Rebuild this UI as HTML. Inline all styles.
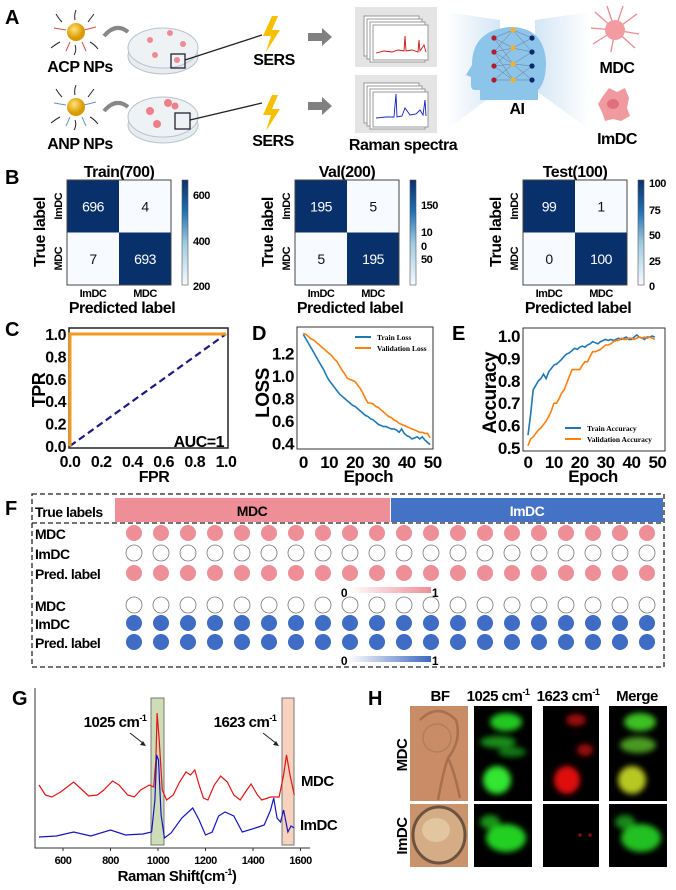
<!DOCTYPE html>
<html><head><meta charset="utf-8"><style>
html,body{margin:0;padding:0;background:#fff;}
svg{display:block;font-family:"Liberation Sans Narrow","Liberation Sans",sans-serif;font-weight:bold;letter-spacing:-0.5px;}
</style></head><body>
<svg id="fig" width="676" height="890" viewBox="0 0 676 890" xmlns="http://www.w3.org/2000/svg">
<defs>
<linearGradient id="blues" x1="0" y1="1" x2="0" y2="0"><stop offset="0" stop-color="#f7fbff"/><stop offset="0.4" stop-color="#9ecae1"/><stop offset="0.7" stop-color="#2171b5"/><stop offset="1" stop-color="#08306b"/></linearGradient>
<linearGradient id="pinkbar" x1="0" x2="1"><stop offset="0" stop-color="#fff"/><stop offset="1" stop-color="#ee8f98"/></linearGradient>
<linearGradient id="bluebar" x1="0" x2="1"><stop offset="0" stop-color="#fff"/><stop offset="1" stop-color="#3c68c0"/></linearGradient>
<linearGradient id="fanL" x1="0" x2="1"><stop offset="0" stop-color="#fff"/><stop offset="1" stop-color="#d4e6f5"/></linearGradient>
<linearGradient id="fanR" x1="0" x2="1"><stop offset="0" stop-color="#d4e6f5"/><stop offset="1" stop-color="#fff"/></linearGradient>
<radialGradient id="gold" cx="0.4" cy="0.35"><stop offset="0" stop-color="#ffe27a"/><stop offset="1" stop-color="#d99a00"/></radialGradient>
<filter id="blur2"><feGaussianBlur stdDeviation="3"/></filter>
</defs>

<!-- PANEL A -->
<g>
<text x="5" y="24" font-size="20">A</text>
<g>
 <g stroke="#222" stroke-width="1" fill="none">
  <path d="M62 22 q-3 -3 -6 -8 M88 22 q3 -4 6 -8 M60 42 q-4 2 -9 6 M90 42 q4 2 8 7 M75 20 q-1 -5 1 -10 M75 45 q2 5 -1 10"/>
 </g>
 <g stroke="#d05050" stroke-width="1"><path d="M66 30 l-12 -2 M84 30 l12 -3 M70 42 l-4 9 M82 42 l4 9"/></g>
 <circle cx="76" cy="32" r="9" fill="url(#gold)"/>
</g>
<text x="80" y="72" font-size="16" text-anchor="middle">ACP NPs</text>
<g>
 <g stroke="#222" stroke-width="1" fill="none">
  <path d="M62 97 q-3 -3 -6 -8 M88 97 q3 -4 6 -8 M60 117 q-4 2 -9 6 M90 117 q4 2 8 7 M75 95 q-1 -5 1 -10 M75 120 q2 5 -1 10"/>
 </g>
 <g stroke="#6a8fd0" stroke-width="1"><path d="M66 105 l-12 -2 M84 105 l12 -3 M70 117 l-4 9 M82 117 l4 9"/></g>
 <circle cx="76" cy="107" r="9" fill="url(#gold)"/>
</g>
<text x="80" y="149" font-size="16" text-anchor="middle">ANP NPs</text>
<path d="M104 36 q12 -14 24 -4" stroke="#888" stroke-width="4" fill="none"/>
<path d="M104 111 q12 -14 24 -4" stroke="#888" stroke-width="4" fill="none"/>
<g>
 <ellipse cx="163" cy="56" rx="35" ry="18" fill="#e6ecf0" stroke="#b8c2ca"/>
 <ellipse cx="163" cy="48" rx="35" ry="20" fill="#eef2f5" stroke="#b8c2ca"/>
 <g fill="#ee8a94"><circle cx="150" cy="40" r="3"/><circle cx="170" cy="33" r="3"/><circle cx="183" cy="44" r="3"/><circle cx="155" cy="55" r="3"/><circle cx="177" cy="60" r="3"/></g>
 <rect x="171" y="54" width="14" height="14" fill="none" stroke="#223" stroke-width="1.3"/>
</g>
<line x1="185" y1="60" x2="262" y2="35" stroke="#222" stroke-width="1.3"/>
<g>
 <ellipse cx="163" cy="125" rx="35" ry="18" fill="#e6ecf0" stroke="#b8c2ca"/>
 <ellipse cx="163" cy="117" rx="35" ry="20" fill="#eef2f5" stroke="#b8c2ca"/>
 <g fill="#ee7f88"><circle cx="150" cy="111" r="4"/><circle cx="168" cy="103" r="4"/><circle cx="175" cy="106" r="3.5"/><circle cx="157" cy="124" r="4"/></g>
 <rect x="175" y="113" width="15" height="16" fill="none" stroke="#223" stroke-width="1.3"/>
</g>
<line x1="190" y1="120" x2="262" y2="103" stroke="#222" stroke-width="1.3"/>
<path d="M272 16 l-9 20 h8 l-5 16 l14 -22 h-8 l6 -14z" fill="#f5c000"/>
<path d="M272 95 l-9 20 h8 l-5 16 l14 -22 h-8 l6 -14z" fill="#f5c000"/>
<text x="274" y="65" font-size="16" text-anchor="middle">SERS</text>
<text x="273" y="146" font-size="16" text-anchor="middle">SERS</text>
<path d="M308 33 h14 v-5 l10 9 l-10 9 v-5 h-14z" fill="#808080"/>
<path d="M308 102 h14 v-5 l10 9 l-10 9 v-5 h-14z" fill="#808080"/>
<g>
 <rect x="355" y="7" width="82" height="60" fill="#e4e4e4"/>
 <rect x="364" y="16" width="55" height="40" fill="#fff" stroke="#999"/>
 <rect x="367" y="19" width="55" height="40" fill="#fff" stroke="#999"/>
 <rect x="370" y="22" width="55" height="40" fill="#fff" stroke="#999"/>
 <rect x="373" y="25" width="55" height="35" fill="#fff" stroke="#999"/>
 <polyline points="376,53 384,51 392,52 398,50 404,51 405,36 406,51 412,50 418,52 419,40 420,51 424,45 426,52" fill="none" stroke="#d01010" stroke-width="0.9"/>
</g>
<g>
 <rect x="355" y="75" width="82" height="58" fill="#e4e4e4"/>
 <rect x="364" y="83" width="55" height="40" fill="#fff" stroke="#999"/>
 <rect x="367" y="86" width="55" height="40" fill="#fff" stroke="#999"/>
 <rect x="370" y="89" width="55" height="40" fill="#fff" stroke="#999"/>
 <rect x="373" y="92" width="55" height="35" fill="#fff" stroke="#999"/>
 <polyline points="376,118 386,117 394,117 396,94 397,117 402,116 405,108 410,115 416,114 420,110 423,115 425,100 426,116" fill="none" stroke="#1020c0" stroke-width="0.9"/>
</g>
<text x="403" y="150" font-size="16" text-anchor="middle">Raman spectra</text>
<g>
 <polygon points="446,12 500,20 500,90 446,130" fill="url(#fanL)"/>
 <polygon points="535,20 590,12 590,130 535,90" fill="url(#fanR)"/>
 <path d="M480 100 v-10 h-5 q-4 0 -4 -5 v-8 l-5 -2 l6 -10 q0 -35 38 -38 q34 0 36 35 q0 20 -8 28 v10z" fill="#8cc4ea"/>
 <g stroke="#667" stroke-width="0.4">
  <path d="M494 38 L513 30 M494 38 L513 48 M494 38 L513 64 M494 52 L513 30 M494 52 L513 48 M494 52 L513 64 M494 52 L513 80 M494 66 L513 48 M494 66 L513 64 M494 66 L513 80 M494 80 L513 64 M494 80 L513 80 M513 30 L532 38 M513 48 L532 38 M513 48 L532 52 M513 64 L532 52 M513 64 L532 66 M513 80 L532 66 M513 80 L532 80 M513 30 L532 52 M513 64 L532 80"/>
 </g>
 <g fill="#b01e2e"><circle cx="494" cy="38" r="2.6"/><circle cx="494" cy="52" r="2.6"/><circle cx="494" cy="66" r="2.6"/><circle cx="494" cy="80" r="2.6"/></g>
 <g fill="#f0b030"><circle cx="513" cy="30" r="2.6"/><circle cx="513" cy="48" r="2.6"/><circle cx="513" cy="64" r="2.6"/><circle cx="513" cy="80" r="2.6"/></g>
 <g fill="#0c2a6a"><circle cx="532" cy="38" r="2.6"/><circle cx="532" cy="52" r="2.6"/><circle cx="532" cy="66" r="2.6"/><circle cx="532" cy="80" r="2.6"/></g>
</g>
<text x="517" y="114" font-size="16" text-anchor="middle">AI</text>
<g stroke="#ee8a90" stroke-width="1.3" fill="none">
 <path d="M615 30 l-20 -18 M615 30 l-8 -24 M615 30 l8 -24 M615 30 l22 -16 M615 30 l24 4 M615 30 l20 18 M615 30 l-4 22 M615 30 l-22 14 M615 30 l-24 -2"/>
 <circle cx="615" cy="30" r="10" fill="#f29ca2" stroke="none"/>
</g>
<text x="617" y="73" font-size="16" text-anchor="middle">MDC</text>
<g>
 <path d="M603 96 l6 -8 l8 4 l8 -4 l4 10 l-2 10 l3 8 l-9 5 l-8 -2 l-8 2 l-3 -9 l-4 -8z" fill="#f09aa0"/>
 <ellipse cx="613" cy="104" rx="6" ry="5" fill="#e0707a"/>
</g>
<text x="617" y="144" font-size="16" text-anchor="middle">ImDC</text>
</g>

<!-- PANEL B -->
<g id="panelB">
<text x="5" y="184" font-size="20">B</text>
</g>

<g id="panelC">
<text x="5" y="336" font-size="20">C</text>
</g>
<g id="panelD">
<text x="252" y="340" font-size="20">D</text>
</g>
<g id="panelE">
<text x="452" y="340" font-size="20">E</text>
</g>

<!-- PANEL F -->
<g id="panelF">
<text x="5" y="515" font-size="20">F</text>
<rect x="32" y="494" width="632" height="173" fill="none" stroke="#222" stroke-width="1.3" stroke-dasharray="5,3"/>
<line x1="32" y1="523" x2="664" y2="523" stroke="#222" stroke-width="1.3" stroke-dasharray="5,3"/>
<text x="35" y="517" font-size="14">True labels</text>
<rect x="115" y="498" width="275" height="24" fill="#ee8f98"/>
<rect x="391" y="498" width="272" height="24" fill="#4472c4"/>
<text x="252" y="516" font-size="14" text-anchor="middle">MDC</text>
<text x="527" y="516" font-size="14" text-anchor="middle" fill="#fff">ImDC</text>
<text x="35" y="539" font-size="14">MDC</text>
<text x="35" y="559" font-size="14">ImDC</text>
<text x="35" y="579" font-size="14">Pred. label</text>
<text x="35" y="611" font-size="14">MDC</text>
<text x="35" y="629" font-size="14">ImDC</text>
<text x="35" y="648" font-size="14">Pred. label</text>
<rect x="348" y="587" width="83" height="6" fill="url(#pinkbar)"/>
<text x="344" y="597" font-size="12" text-anchor="middle">0</text>
<text x="435" y="597" font-size="12" text-anchor="middle">1</text>
<rect x="348" y="656" width="83" height="6" fill="url(#bluebar)"/>
<text x="344" y="665" font-size="12" text-anchor="middle">0</text>
<text x="435" y="665" font-size="12" text-anchor="middle">1</text>
</g>

<!-- PANEL G -->
<g id="panelG">
<text x="12" y="705" font-size="20">G</text>
</g>

<!-- PANEL H -->
<g id="panelH">
<text x="368" y="705" font-size="20">H</text>
<text x="440" y="701" font-size="15" text-anchor="middle">BF</text>
<text x="498" y="701" font-size="15" text-anchor="middle">1025 cm<tspan font-size="9" dy="-6">-1</tspan></text>
<text x="568" y="701" font-size="15" text-anchor="middle">1623 cm<tspan font-size="9" dy="-6">-1</tspan></text>
<text x="637" y="701" font-size="15" text-anchor="middle">Merge</text>
<text transform="translate(407,755) rotate(-90)" font-size="15" text-anchor="middle">MDC</text>
<text transform="translate(407,836) rotate(-90)" font-size="15" text-anchor="middle">ImDC</text>
<g>
 <rect x="410" y="706" width="58" height="95" fill="#c98c66"/>
 <path d="M420 720 q18 -18 36 0 q6 20 -8 38 q-4 10 -10 42 M448 758 q6 12 12 40" stroke="#a8704e" stroke-width="2.5" fill="none"/>
 <ellipse cx="437" cy="738" rx="14" ry="14" fill="none" stroke="#b57d5a" stroke-width="1.5"/>
</g>
<g>
 <rect x="410" y="804" width="58" height="63" fill="#c9936c"/>
 <ellipse cx="439" cy="835" rx="26" ry="28" fill="#d4ad86" stroke="#6e5440" stroke-width="3"/>
 <ellipse cx="436" cy="830" rx="14" ry="12" fill="#e2c6a0"/>
</g>
<g>
 <rect x="474" y="706" width="58" height="95" fill="#000"/>
 <g filter="url(#blur2)" fill="#22c822"><ellipse cx="506" cy="722" rx="16" ry="9"/><ellipse cx="498" cy="742" rx="18" ry="6" opacity="0.7"/><ellipse cx="512" cy="752" rx="14" ry="5" opacity="0.6"/><ellipse cx="497" cy="780" rx="14" ry="14" fill="#33e633"/></g>
</g>
<g>
 <rect x="543" y="706" width="56" height="95" fill="#000"/>
 <g filter="url(#blur2)" fill="#e01010"><ellipse cx="576" cy="720" rx="10" ry="6" opacity="0.7"/><ellipse cx="585" cy="750" rx="8" ry="6" opacity="0.7"/><ellipse cx="567" cy="780" rx="13" ry="14"/></g>
</g>
<g>
 <rect x="609" y="706" width="58" height="95" fill="#000"/>
 <g filter="url(#blur2)"><ellipse cx="640" cy="722" rx="16" ry="9" fill="#3cc020"/><ellipse cx="638" cy="745" rx="18" ry="8" fill="#4a9a20"/><ellipse cx="632" cy="780" rx="14" ry="14" fill="#b8c820"/></g>
</g>
<g>
 <rect x="474" y="804" width="58" height="63" fill="#000"/>
 <g filter="url(#blur2)" fill="#22d022"><ellipse cx="506" cy="838" rx="20" ry="14"/><ellipse cx="490" cy="822" rx="10" ry="7" opacity="0.7"/></g>
</g>
<g>
 <rect x="543" y="804" width="56" height="63" fill="#000"/>
 <circle cx="580" cy="835" r="1.8" fill="#801010"/><circle cx="590" cy="835" r="1.8" fill="#801010"/>
</g>
<g>
 <rect x="609" y="804" width="58" height="63" fill="#000"/>
 <g filter="url(#blur2)" fill="#22c022"><ellipse cx="641" cy="838" rx="20" ry="14"/><ellipse cx="625" cy="822" rx="10" ry="7" opacity="0.7"/></g>
</g>
</g>
</svg>

<script>
// ---------- DATA ----------
const cmClasses = ["ImDC", "MDC"];
const cmTrain = [[696, 4], [7, 693]];
const cmVal = [[195, 5], [5, 195]];
const cmTest = [[99, 1], [0, 100]];
const cmTitles = ["Train(700)", "Val(200)", "Test(100)"];
const cbTicksTrain = ["600", "400", "200"];
const cbTicksVal = ["150", "10", "0", "50"];
const cbTicksTest = ["100", "75", "50", "25", "0"];

const rocFpr = [0, 0, 1];
const rocTpr = [0, 1, 1];
const rocTicks = [0, 0.2, 0.4, 0.6, 0.8, 1.0];

const epochs = [0,1,2,3,4,5,6,7,8,9,10,11,12,13,14,15,16,17,18,19,20,21,22,23,24,25,26,27,28,29,30,31,32,33,34,35,36,37,38,39,40,41,42,43,44,45,46,47,48,49];
const trainLoss = [1.37,1.33,1.29,1.25,1.21,1.17,1.13,1.09,1.05,1.00,0.96,0.93,0.90,0.87,0.84,0.82,0.80,0.78,0.76,0.74,0.73,0.71,0.69,0.67,0.65,0.64,0.62,0.61,0.59,0.57,0.56,0.55,0.55,0.54,0.53,0.53,0.52,0.50,0.53,0.49,0.47,0.46,0.44,0.45,0.46,0.44,0.46,0.43,0.41,0.39];
const valLoss = [1.38,1.37,1.35,1.33,1.32,1.30,1.28,1.26,1.24,1.22,1.20,1.18,1.15,1.13,1.09,1.05,1.02,0.98,0.97,0.96,0.95,0.92,0.89,0.85,0.80,0.76,0.76,0.75,0.73,0.72,0.70,0.68,0.66,0.64,0.63,0.61,0.60,0.58,0.57,0.56,0.55,0.54,0.53,0.52,0.51,0.50,0.50,0.49,0.49,0.45];
const lossTicks = [0.4, 0.6, 0.8, 1.0, 1.2];
const trainAcc = [0.557,0.65,0.76,0.78,0.80,0.81,0.83,0.81,0.84,0.855,0.87,0.875,0.885,0.895,0.91,0.92,0.925,0.935,0.945,0.94,0.95,0.955,0.95,0.96,0.965,0.975,0.97,0.965,0.975,0.98,0.985,0.98,0.985,0.98,0.985,0.99,0.985,0.99,0.995,0.985,0.985,0.995,1.005,0.995,0.99,0.985,0.995,0.995,1.0,0.995];
const valAcc = [0.51,0.54,0.55,0.565,0.58,0.59,0.605,0.62,0.64,0.665,0.70,0.70,0.72,0.745,0.76,0.79,0.82,0.85,0.85,0.85,0.85,0.87,0.885,0.885,0.91,0.93,0.93,0.935,0.94,0.95,0.96,0.96,0.965,0.975,0.98,0.98,0.99,0.985,0.985,0.99,0.99,0.985,0.99,0.995,0.99,0.995,0.99,0.995,0.99,0.985];
const accTicks = [0.5, 0.6, 0.7, 0.8, 0.9, 1.0];
const epochTicks = [0, 10, 20, 30, 40, 50];

const fMdcRow1 = [1,1,1,1,1,1,1,1,1,1,1,1,1,1,1,1,1,1,1,1];
const fImdcRow1 = [0,0,0,0,0,0,0,0,0,0,0,0,0,0,0,0,0,0,0,0];
const fPredRow1 = [1,1,1,1,1,1,1,1,1,1,1,1,1,1,1,1,1,1,1,1];
const fMdcRow2 = [0,0,0,0,0,0,0,0,0,0,0,0,0,0,0,0,0,0,0,0];
const fImdcRow2 = [1,1,1,1,1,1,1,1,1,1,1,1,1,1,1,1,1,1,1,1];
const fPredRow2 = [1,1,1,1,1,1,1,1,1,1,1,1,1,1,1,1,1,1,1,1];

const mdcShift = [499,526,553,590,645,672,708,745,772,809,836,872,900,927,964,982,991,996,1005,1018,1036,1064,1091,1118,1137,1155,1173,1191,1210,1237,1264,1292,1319,1346,1374,1392,1419,1437,1474,1510,1529,1541,1556,1574];
const mdcInt = [63,53,51,56,66,60,52,53,58,67,63,53,51,58,63,61,88,135,108,58,48,53,66,76,73,78,63,50,48,63,72,66,53,48,58,64,53,48,51,51,73,93,73,53];
const imdcShift = [499,572,645,717,800,863,936,973,987,994,1002,1013,1027,1055,1100,1146,1173,1200,1228,1255,1282,1319,1355,1410,1447,1474,1487,1501,1516,1529,1547,1560,1574];
const imdcInt = [11,12,16,12,18,13,14,16,48,93,88,33,10,15,30,40,28,13,16,32,36,32,16,20,23,38,50,30,26,38,16,22,20];
const ramanTicks = [600, 800, 1000, 1200, 1400, 1600];

// ---------- HELPERS ----------
const NS = "http://www.w3.org/2000/svg";
function mk(tag, attrs, parent) {
  const e = document.createElementNS(NS, tag);
  for (const k in attrs) e.setAttribute(k, attrs[k]);
  parent.appendChild(e);
  return e;
}
function txt(str, attrs, parent) {
  const e = mk("text", attrs, parent);
  e.textContent = str;
  return e;
}

// ---------- PANEL B ----------
const gB = document.getElementById("panelB");
const cmList = [cmTrain, cmVal, cmTest];
const cmX = [67, 295, 523];
const cbTickList = [cbTicksTrain, cbTicksVal, cbTicksTest];
const cbTickYs = [[195,241,286],[205,232,246,259],[183,210,235,261,286]];
cmList.forEach(function (cm, k) {
  const x0 = cmX[k], y0 = 180, cw = 52, ch = 52.5;
  let mx = 0;
  cm.forEach(function (r) { r.forEach(function (v) { if (v > mx) mx = v; }); });
  const t = txt(cmTitles[k], {x: x0 + 52, y: 177, "font-size": 16, "text-anchor": "middle"}, gB);
  
  
  for (let i = 0; i < 2; i++) for (let j = 0; j < 2; j++) {
    const v = cm[i][j];
    const dark = v / mx > 0.5;
    const c = mk("rect", {x: x0 + j * cw, y: y0 + i * ch, width: cw, height: ch, fill: dark ? "#08306b" : "#f7fbff"}, gB);
    
    
    const n = txt(String(v), {x: x0 + j * cw + cw / 2, y: y0 + i * ch + ch / 2 + 5, "font-size": 14, "font-weight": "normal", "text-anchor": "middle", fill: dark ? "#fff" : "#111", "font-family": "Liberation Sans, sans-serif"}, gB);
    
    
  }
  mk("rect", {x: x0, y: y0, width: 2 * cw, height: 2 * ch, fill: "none", stroke: "#444", "stroke-width": 1}, gB);
  const cbx = x0 + 2 * cw + 11;
  const cb = mk("rect", {x: cbx, y: y0, width: 6, height: 105, fill: "url(#blues)", stroke: "#555", "stroke-width": 0.6}, gB);
  
  
  cbTickList[k].forEach(function (lab, m) {
    const tl = txt(lab, {x: cbx + 11, y: cbTickYs[k][m] + 4, "font-size": 11}, gB);
    
    
  });
  cmClasses.forEach(function (cls, i) {
    const xl = txt(cls, {x: x0 + i * cw + cw / 2, y: 297, "font-size": 11, "text-anchor": "middle"}, gB);
    
    
    const yl = txt(cls, {transform: "translate(" + (x0 - 5) + "," + (y0 + i * ch + ch / 2) + ") rotate(-90)", "font-size": 11, "text-anchor": "middle"}, gB);
    
    
  });
  const yt = txt("True label", {transform: "translate(" + (x0 - 22) + "," + (y0 + 52) + ") rotate(-90)", "font-size": 16, "text-anchor": "middle"}, gB);
  
  
  const xt = txt("Predicted label", {x: x0 + 55, y: 313, "font-size": 16, "text-anchor": "middle"}, gB);
  
  
});

// ---------- PANEL C ----------
const gC = document.getElementById("panelC");
const cx = function (v) { return 70 + v * 156; };
const cy = function (v) { return 446 - v * 112; };
mk("rect", {x: 69, y: 328, width: 159, height: 120, fill: "none", stroke: "#222", "stroke-width": 1.5}, gC);
const diag = mk("line", {x1: cx(0), y1: cy(0), x2: cx(1), y2: cy(1), stroke: "#1a1a80", "stroke-width": 2.2, "stroke-dasharray": "7,4"}, gC);


const rocPath = mk("polyline", {points: rocFpr.map(function (f, i) { return cx(f) + "," + cy(rocTpr[i]); }).join(" "), fill: "none", stroke: "#f39a1c", "stroke-width": 3}, gC);


rocTicks.forEach(function (t) {
  const a = txt(t.toFixed(1), {x: cx(t), y: 467, "font-size": 16, "text-anchor": "middle"}, gC);
  
  
  const b = txt(t.toFixed(1), {x: 66, y: cy(t) + 6, "font-size": 16, "text-anchor": "end"}, gC);
  
  
});
const fpr = txt("FPR", {x: 154, y: 482, "font-size": 16, "text-anchor": "middle"}, gC);


const tpr = txt("TPR", {transform: "translate(45,390) rotate(-90)", "font-size": 18, "text-anchor": "middle"}, gC);


const auc = txt("AUC=1", {x: 224, y: 447, "font-size": 16, "text-anchor": "end"}, gC);



// ---------- PANEL D / E ----------
function lineChart(g, opt) {
  const xs = function (e) { return opt.x0 + e * 2.588; };
  const ys = function (v) { return opt.yb - (v - opt.vmin) * opt.k; };
  mk("rect", {x: opt.bx, y: opt.by, width: opt.bw, height: opt.bh, fill: "none", stroke: "#333", "stroke-width": 1}, g);
  opt.series.forEach(function (s, si) {
    const p = mk("polyline", {points: epochs.map(function (e, i) { return xs(e).toFixed(1) + "," + ys(s[i]).toFixed(1); }).join(" "), fill: "none", stroke: opt.colors[si], "stroke-width": 1.6}, g);
    
    
  });
  opt.yticks.forEach(function (t) {
    const a = txt(t.toFixed(1), {x: opt.bx - 3, y: ys(t) + 6, "font-size": 17, "text-anchor": "end"}, g);
    
    
  });
  epochTicks.forEach(function (t) {
    const a = txt(String(t), {x: xs(t), y: 468, "font-size": 17, "text-anchor": "middle"}, g);
    
    
  });
  const xt = txt("Epoch", {x: opt.x0 + 65, y: 482, "font-size": 17, "text-anchor": "middle"}, g);
  
  
  const yt = txt(opt.ytitle, {transform: "translate(" + opt.ytx + ",393) rotate(-90)", "font-size": 19, "text-anchor": "middle"}, g);
  
  
  opt.legend.forEach(function (lab, i) {
    const ly = opt.ly + i * 11;
    const ln = mk("line", {x1: opt.lx, y1: ly, x2: opt.lx + 16, y2: ly, stroke: opt.colors[i], "stroke-width": 2}, g);
    
    
    const lt = txt(lab, {x: opt.lx + 22, y: ly + 3, "font-size": 7.5, "letter-spacing": "0", "font-family": "Liberation Serif, serif"}, g);
    
    
  });
}
lineChart(document.getElementById("panelD"), {
  x0: 303.3, yb: 443.5, vmin: 0.4, k: 112.5, bx: 297, by: 327, bw: 136, bh: 122,
  series: [trainLoss, valLoss], colors: ["#1f77b4", "#ff7f0e"], names: ["train-loss-line", "validation-loss-line"],
  yticks: lossTicks, ytitle: "LOSS", ytx: 269, legend: ["Train Loss", "Validation Loss"], lx: 355, ly: 337
});
lineChart(document.getElementById("panelE"), {
  x0: 528, yb: 448, vmin: 0.5, k: 224, bx: 523, by: 328, bw: 142, bh: 123,
  series: [trainAcc, valAcc], colors: ["#1f77b4", "#ff7f0e"], names: ["train-accuracy-line", "validation-accuracy-line"],
  yticks: accTicks, ytitle: "Accuracy", ytx: 496, legend: ["Train Accuracy", "Validation Accuracy"], lx: 565, ly: 428
});

// ---------- PANEL F ----------
const gF = document.getElementById("panelF");
const fRows = [
  {d: fMdcRow1, y: 533, c: "#ee8f98"}, {d: fImdcRow1, y: 553, c: "#ee8f98"}, {d: fPredRow1, y: 573, c: "#ee8f98"},
  {d: fMdcRow2, y: 605, c: "#3f6cc4"}, {d: fImdcRow2, y: 623, c: "#3f6cc4"}, {d: fPredRow2, y: 642, c: "#3f6cc4"}
];
fRows.forEach(function (row) {
  row.d.forEach(function (v, i) {
    const c = mk("circle", {cx: 134 + i * 27, cy: row.y, r: 8, fill: v > 0.5 ? row.c : "#fff", stroke: v > 0.5 ? "none" : "#777", "stroke-width": 0.8}, gF);
    
    
  });
});

// ---------- PANEL G ----------
const gG = document.getElementById("panelG");
const gx = function (s) { return 63 + (s - 600) * 0.2375; };
const gy = function (v) { return 848 - v; };
const band1 = mk("rect", {x: 151, y: 698, width: 13, height: 147, fill: "#cfdcb8", stroke: "#777", "stroke-width": 1}, gG);


const band2 = mk("rect", {x: 282, y: 698, width: 12, height: 147, fill: "#f8d2bc", stroke: "#777", "stroke-width": 1}, gG);


mk("polyline", {points: "35,688 35,848 310,848", fill: "none", stroke: "#333", "stroke-width": 1}, gG);
const sp1 = mk("polyline", {points: mdcShift.map(function (s, i) { return gx(s).toFixed(1) + "," + gy(mdcInt[i]).toFixed(1); }).join(" "), fill: "none", stroke: "#e01515", "stroke-width": 1.2}, gG);


const sp2 = mk("polyline", {points: imdcShift.map(function (s, i) { return gx(s).toFixed(1) + "," + gy(imdcInt[i]).toFixed(1); }).join(" "), fill: "none", stroke: "#1515c0", "stroke-width": 1.2}, gG);


ramanTicks.forEach(function (t) {
  mk("line", {x1: gx(t), y1: 848, x2: gx(t), y2: 851, stroke: "#333"}, gG);
  const a = txt(String(t), {x: gx(t), y: 864, "font-size": 11, "text-anchor": "middle"}, gG);
  
  
});
const gxt = mk("text", {x: 177, y: 881, "font-size": 15, "text-anchor": "middle"}, gG);
gxt.innerHTML = 'Raman Shift(cm<tspan font-size="9" dy="-6">-1</tspan><tspan dy="6">)</tspan>';


const a1 = mk("text", {x: 115, y: 727, "font-size": 15, "text-anchor": "middle"}, gG);
a1.innerHTML = '1025 cm<tspan font-size="9" dy="-6">-1</tspan>';


const a2 = mk("text", {x: 245, y: 727, "font-size": 15, "text-anchor": "middle"}, gG);
a2.innerHTML = '1623 cm<tspan font-size="9" dy="-6">-1</tspan>';


mk("line", {x1: 130, y1: 733, x2: 144, y2: 744, stroke: "#222", "stroke-width": 1}, gG);
mk("path", {d: "M146 746 l-6 -1 l3 -4z", fill: "#222"}, gG);
mk("line", {x1: 263, y1: 733, x2: 277, y2: 744, stroke: "#222", "stroke-width": 1}, gG);
mk("path", {d: "M279 746 l-6 -1 l3 -4z", fill: "#222"}, gG);
const lm = txt("MDC", {x: 301, y: 786, "font-size": 15}, gG);


const li = txt("ImDC", {x: 300, y: 830, "font-size": 15}, gG);


</script>
</body></html>
